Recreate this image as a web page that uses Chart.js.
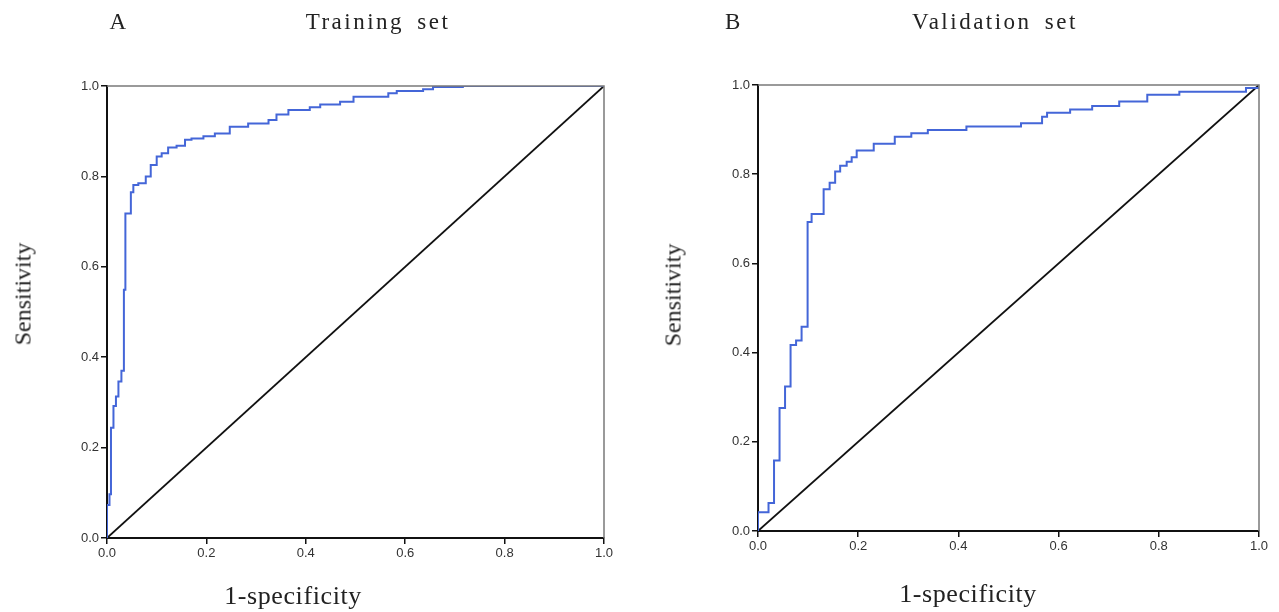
<!DOCTYPE html>
<html>
<head>
<meta charset="utf-8">
<script src="https://cdn.jsdelivr.net/npm/chart.js@4"></script>
<style>
  body { margin: 0; background: #fff; }
  #wrap { position: relative; width: 1279px; height: 612px; overflow: hidden; }
  canvas { position: absolute; top: 0; }
  .lbl {
    position: absolute;
    font-family: "Liberation Serif", "DejaVu Serif", serif;
    color: #222;
    white-space: nowrap;
    transform: translate(-50%, -50%);
  }
  .head { font-size: 23px; letter-spacing: 2.5px; word-spacing: 5px; }
  .axis { font-size: 26px; letter-spacing: 0.6px; }
  .side { font-size: 24px; transform: translate(-50%, -50%) rotate(-90deg); }
</style>
</head>
<body>
<div id="wrap">
  <canvas id="trainChart" width="640" height="612" style="left:0"></canvas>
  <canvas id="validChart" width="639" height="612" style="left:640px"></canvas>

  <div class="lbl head" style="left:119px; top:22px">A</div>
  <div class="lbl head" style="left:378px; top:22px">Training set</div>
  <div class="lbl head" style="left:734px; top:22px">B</div>
  <div class="lbl head" style="left:995px; top:22px">Validation set</div>

  <div class="lbl side" style="left:23px; top:294px">Sensitivity</div>
  <div class="lbl side" style="left:673px; top:295px">Sensitivity</div>

  <div class="lbl axis" style="left:293px; top:596px">1-specificity</div>
  <div class="lbl axis" style="left:968px; top:594px">1-specificity</div>
</div>

<script>
// ROC points (1-specificity, sensitivity) for the training set
let trainFpr = [0, 0, 0.005, 0.008, 0.013, 0.018, 0.023, 0.029, 0.034, 0.037, 0.048, 0.053, 0.063, 0.078, 0.088,
  0.100, 0.110, 0.123, 0.140, 0.157, 0.170, 0.194, 0.217, 0.247, 0.284, 0.325, 0.341, 0.365, 0.408, 0.429,
  0.469, 0.496, 0.566, 0.583, 0.636, 0.656, 0.716, 1.0];
let trainTpr = [0, 0.073, 0.097, 0.244, 0.292, 0.313, 0.346, 0.370, 0.549, 0.718, 0.765, 0.781, 0.785, 0.800, 0.825,
  0.844, 0.851, 0.864, 0.868, 0.881, 0.884, 0.889, 0.895, 0.910, 0.917, 0.925, 0.937, 0.947, 0.953, 0.959,
  0.965, 0.976, 0.984, 0.989, 0.993, 0.998, 1.0, 1.0];

// ROC points for the validation set
let validFpr = [0, 0, 0.021, 0.032, 0.043, 0.054, 0.065, 0.076, 0.087, 0.099, 0.107, 0.131, 0.143, 0.154, 0.164,
  0.177, 0.187, 0.197, 0.231, 0.273, 0.306, 0.339, 0.416, 0.525, 0.567, 0.577, 0.623, 0.667, 0.721, 0.777,
  0.841, 0.974, 1.0];
let validTpr = [0, 0.042, 0.063, 0.158, 0.276, 0.324, 0.417, 0.427, 0.458, 0.693, 0.711, 0.766, 0.781, 0.806, 0.819,
  0.828, 0.838, 0.853, 0.868, 0.884, 0.892, 0.899, 0.907, 0.914, 0.929, 0.938, 0.945, 0.953, 0.963, 0.978,
  0.985, 0.993, 1.0];

// reference diagonal
let chanceLine = [0, 1];
let tickValues = [0, 0.2, 0.4, 0.6, 0.8, 1.0];

function toPoints(xs, ys) {
  let pts = [];
  for (let i = 0; i < xs.length; i++) {
    pts.push({ x: xs[i], y: ys[i] });
  }
  return pts;
}

// grey frame on the top and right of the plot area
const framePlugin = {
  id: 'frame',
  afterDatasetsDraw(chart) {
    const a = chart.chartArea;
    const ctx = chart.ctx;
    ctx.save();
    ctx.strokeStyle = '#7a7a7a';
    ctx.lineWidth = 1.5;
    ctx.beginPath();
    ctx.moveTo(a.left, a.top);
    ctx.lineTo(a.right, a.top);
    ctx.lineTo(a.right, a.bottom);
    ctx.stroke();
    ctx.restore();
  }
};

function axisOptions(fitSize, horizontal) {
  return {
    type: 'linear',
    min: 0,
    max: 1,
    afterBuildTicks: (scale) => { scale.ticks = tickValues.map(v => ({ value: v })); },
    afterFit: (scale) => {
      if (horizontal) scale.height = fitSize; else scale.width = fitSize;
    },
    border: { display: true, color: '#111', width: 2 },
    grid: { drawOnChartArea: false, drawTicks: true, tickLength: 6, color: '#111', lineWidth: 1.5 },
    ticks: {
      padding: 2,
      color: '#333',
      font: { family: 'Liberation Sans', size: 13 },
      callback: (v) => Number(v).toFixed(1)
    }
  };
}

function drawRoc(canvasId, xs, ys, pad, yWidth, xHeight) {
  let ctx = document.getElementById(canvasId).getContext('2d');
  return new Chart(ctx, {
    type: 'scatter',
    data: {
      datasets: [
        {
          label: 'ROC',
          data: toPoints(xs, ys),
          showLine: true,
          stepped: true,
          borderColor: '#4466d8',
          borderWidth: 2,
          pointRadius: 0,
          fill: false
        },
        {
          label: 'Reference',
          data: toPoints(chanceLine, chanceLine),
          showLine: true,
          borderColor: '#111',
          borderWidth: 1.8,
          pointRadius: 0,
          fill: false
        }
      ]
    },
    options: {
      responsive: false,
      animation: false,
      devicePixelRatio: 1,
      layout: { padding: pad },
      plugins: { legend: { display: false }, tooltip: { enabled: false }, title: { display: false } },
      scales: {
        x: axisOptions(xHeight, true),
        y: axisOptions(yWidth, false)
      }
    },
    plugins: [framePlugin]
  });
}

drawRoc('trainChart', trainFpr, trainTpr, { top: 86, right: 36, left: 0, bottom: 0 }, 107, 74);
drawRoc('validChart', validFpr, validTpr, { top: 85, right: 20, left: 0, bottom: 0 }, 118, 81);
</script>
</body>
</html>
